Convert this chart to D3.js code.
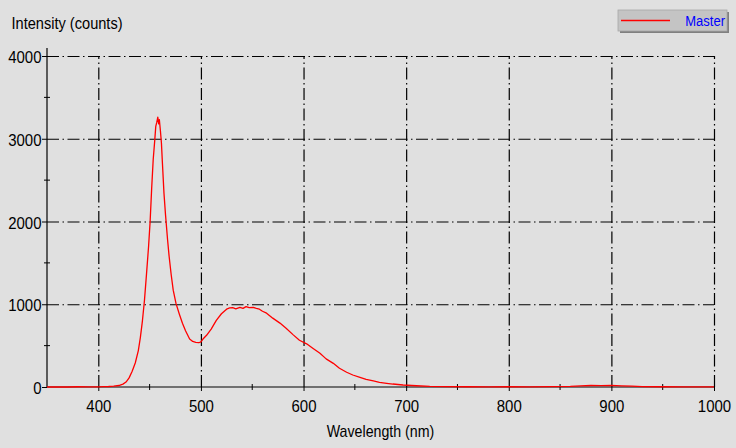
<!DOCTYPE html>
<html>
<head>
<meta charset="utf-8">
<script src="https://cdn.jsdelivr.net/npm/d3@7"></script>
<style>
  html, body { margin: 0; padding: 0; background: #e0e0e0; }
  svg { display: block; }
  text { font-family: "Liberation Sans", Arial, sans-serif; }
</style>
</head>
<body>
<svg id="chart" width="736" height="448"></svg>
<script>
// ---- data ----
const wavelength = [350, 360, 370, 380, 390, 400, 405, 410, 415, 420, 424, 427, 430, 433, 436, 439, 441, 443, 445, 447, 449, 450.5, 452, 453.5, 455, 456, 457, 458, 458.8, 459.5, 460.5, 461.5, 462.5, 464, 465.5, 467.5, 469, 471, 473, 475.7, 479, 482, 485, 489, 492, 495, 498, 500, 502, 505.5, 510, 515, 520, 525, 528, 531, 534, 538, 541, 544, 547, 551, 554, 557, 560, 564, 570, 577, 583, 590, 596, 603, 609, 616, 622, 629, 635, 642, 648, 655, 661, 668, 674, 681, 687, 697, 710, 723, 740, 760, 780, 800, 820, 840, 860, 870, 880, 890, 900, 910, 920, 930, 950, 970, 1000];
const intensity = [0, 2, 0, 3, 1, 2, 4, 6, 10, 18, 35, 60, 110, 190, 290, 440, 600, 800, 1050, 1370, 1700, 2000, 2400, 2750, 2980, 3150, 3200, 3260, 3180, 3230, 3100, 2950, 2700, 2340, 2080, 1780, 1580, 1360, 1170, 1010, 880, 770, 680, 580, 550, 540, 535, 545, 580, 625, 700, 805, 885, 940, 955, 958, 945, 962, 950, 972, 960, 962, 950, 940, 915, 892, 832, 772, 710, 630, 565, 522, 468, 407, 340, 286, 226, 178, 145, 117, 93, 73, 57, 45, 36, 24, 15, 8, 5, 3, 2, 3, 2, 4, 8, 14, 18, 16, 20, 14, 10, 5, 3, 2, 1];
const xTicks = [400, 500, 600, 700, 800, 900, 1000];
const xMinorTicks = [450, 550, 650, 750, 850, 950];
const yTicks = [0, 1000, 2000, 3000, 4000];
const yMinorTicks = [500, 1500, 2500, 3500];
const seriesName = "Master";
const yTitle = "Intensity (counts)";
const xTitle = "Wavelength (nm)";

// ---- layout ----
const svg = d3.select("#chart");
const x = d3.scaleLinear().domain([350, 1000]).range([47, 714]);
const y = d3.scaleLinear().domain([0, 4000]).range([387, 56]);
const SY = 1.15; // vertical stretch of the tall bitmap-like font

svg.append("rect").attr("width", 736).attr("height", 448).attr("fill", "#e0e0e0");

const dash = "12,3.5,1.5,3.5";

// horizontal grid
svg.append("g")
  .attr("transform", `translate(${x(350)},0)`)
  .call(d3.axisRight(y).tickValues(yTicks.filter(d => d > 0)).tickSize(x(1000) - x(350)).tickFormat(""))
  .call(g => g.select(".domain").remove())
  .call(g => g.selectAll("line").attr("stroke", "#000").attr("stroke-width", 1.2).attr("stroke-dasharray", dash));

// vertical grid
svg.append("g")
  .attr("transform", `translate(0,${y(0)})`)
  .call(d3.axisTop(x).tickValues(xTicks).tickSize(y(0) - y(4000)).tickFormat(""))
  .call(g => g.select(".domain").remove())
  .call(g => g.selectAll("line").attr("stroke", "#000").attr("stroke-width", 1.2).attr("stroke-dasharray", dash));

// y axis
const yAxis = svg.append("g")
  .attr("transform", `translate(${x(350)},0)`)
  .call(d3.axisLeft(y).tickValues(yTicks).tickSize(5).tickFormat(d3.format("d")));
yAxis.select(".domain").remove();
yAxis.selectAll("line").attr("stroke", "#000");
yAxis.selectAll("text")
  .attr("font-size", 15).attr("fill", "#000")
  .attr("font-family", "'Liberation Sans', Arial, sans-serif")
  .attr("x", -5.5).attr("y", 0).attr("dy", 6.5 / SY)
  .attr("transform", `scale(1,${SY})`);
svg.append("line").attr("x1", x(350)).attr("x2", x(350)).attr("y1", y(0)).attr("y2", 48)
  .attr("stroke", "#000").attr("stroke-width", 1.2);
svg.append("g").selectAll("line").data(yMinorTicks).join("line")
  .attr("x1", x(350) - 3).attr("x2", x(350) + 3)
  .attr("y1", d => y(d)).attr("y2", d => y(d))
  .attr("stroke", "#000");

// x axis
const xAxis = svg.append("g")
  .attr("transform", `translate(0,${y(0)})`)
  .call(d3.axisBottom(x).tickValues(xTicks).tickSize(4).tickFormat(d3.format("d")));
xAxis.select(".domain").remove();
xAxis.selectAll("line").attr("stroke", "#000");
xAxis.selectAll("text")
  .attr("font-size", 15).attr("fill", "#000")
  .attr("font-family", "'Liberation Sans', Arial, sans-serif")
  .attr("y", 24.7 / SY).attr("dy", 0)
  .attr("transform", `scale(1,${SY})`);
svg.append("line").attr("x1", x(350)).attr("x2", x(1000)).attr("y1", y(0)).attr("y2", y(0))
  .attr("stroke", "#000").attr("stroke-width", 1.2);
svg.append("g").selectAll("line").data(xMinorTicks).join("line")
  .attr("x1", d => x(d)).attr("x2", d => x(d))
  .attr("y1", y(0) - 3).attr("y2", y(0) + 3)
  .attr("stroke", "#000");

// spectrum line
const line = d3.line().x((d, i) => x(wavelength[i])).y(d => y(d));
svg.append("path")
  .datum(intensity)
  .attr("d", line)
  .attr("fill", "none")
  .attr("stroke", "#ff0000")
  .attr("stroke-width", 1.3)
  .attr("stroke-linejoin", "round");

// titles
svg.append("text").attr("x", 11.5).attr("y", 29.3 / SY).attr("transform", `scale(1,${SY})`)
  .attr("font-size", 14.6).attr("fill", "#000").text(yTitle);
svg.append("text").attr("x", (x(350) + x(1000)) / 2).attr("y", 437.5 / SY).attr("transform", `scale(1,${SY})`)
  .attr("text-anchor", "middle").attr("font-size", 14.2).attr("fill", "#000").text(xTitle);

// legend
const lg = svg.append("g");
lg.append("rect").attr("x", 620).attr("y", 12).attr("width", 109).attr("height", 21).attr("fill", "#808080");
lg.append("rect").attr("x", 618).attr("y", 10).attr("width", 109).attr("height", 21).attr("fill", "#c4c4c4")
  .attr("stroke", "#a8a8a8").attr("stroke-width", 0.8);
lg.append("line").attr("x1", 621).attr("x2", 670).attr("y1", 20.5).attr("y2", 20.5)
  .attr("stroke", "#ff0000").attr("stroke-width", 1.3);
lg.append("text").attr("x", 725).attr("y", 26.5 / 1.08).attr("transform", "scale(1,1.08)").attr("text-anchor", "end")
  .attr("font-size", 13).attr("fill", "#0000ff").text(seriesName);
</script>
</body>
</html>
